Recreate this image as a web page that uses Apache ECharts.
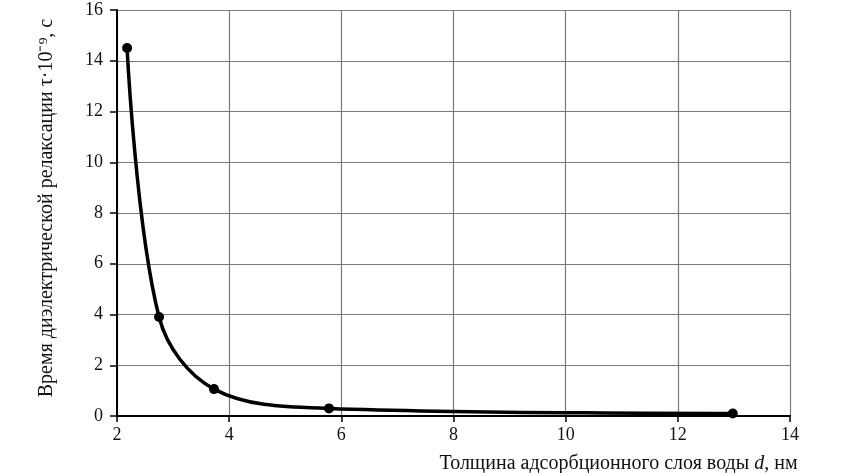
<!DOCTYPE html>
<html>
<head>
<meta charset="utf-8">
<script src="https://cdn.jsdelivr.net/npm/echarts@6/dist/echarts.min.js"></script>
<style>
  html, body { margin: 0; padding: 0; background: #fff; }
  #chart { width: 859px; height: 473px; }
</style>
</head>
<body>
<div id="chart"></div>
<script>
// толщина слоя, нм
const thickness = [2.18, 2.75, 3.73, 5.78, 12.98];
// время релаксации, τ·10^-9 с
const relaxTime = [14.5, 3.9, 1.06, 0.3, 0.1];

const xTicks = [2, 4, 6, 8, 10, 12, 14];
const yTicks = [0, 2, 4, 6, 8, 10, 12, 14, 16];

const font = 'Liberation Serif, Times New Roman, serif';

const chart = echarts.init(document.getElementById('chart'));

chart.setOption({
  animation: false,
  grid: { left: 117, right: 69, top: 10, bottom: 57, outerBoundsMode: 'none' },
  xAxis: {
    type: 'value',
    min: xTicks[0],
    max: xTicks[xTicks.length - 1],
    interval: 2,
    name: 'Толщина адсорбционного слоя воды {i|d}, нм',
    nameLocation: 'middle',
    nameGap: 38,
    nameTextStyle: {
      fontFamily: font, fontSize: 20, color: '#111',
      padding: [0, 0, 0, 330],
      rich: { i: { fontFamily: font, fontSize: 20, fontStyle: 'italic', color: '#111' } }
    },
    axisLine: { lineStyle: { color: '#000', width: 2 } },
    axisTick: { show: true, length: 6, lineStyle: { color: '#000', width: 1.5 } },
    axisLabel: { fontFamily: font, fontSize: 18, color: '#111', margin: 10 },
    splitLine: { show: true, lineStyle: { color: '#7a7a7a', width: 1.2 } }
  },
  yAxis: {
    type: 'value',
    min: yTicks[0],
    max: yTicks[yTicks.length - 1],
    interval: 2,
    name: 'Время диэлектрической релаксации τ·10⁻⁹, с',
    nameLocation: 'middle',
    nameGap: 60,
    nameTextStyle: {
      fontFamily: font, fontSize: 20, color: '#111',
      padding: [0, 0, 0, 10]
    },
    axisLine: { show: true, lineStyle: { color: '#000', width: 2 } },
    axisTick: { show: true, length: 7, lineStyle: { color: '#000', width: 1.5 } },
    axisLabel: { fontFamily: font, fontSize: 18, color: '#111', margin: 14 },
    splitLine: { show: true, lineStyle: { color: '#7a7a7a', width: 1.2 } }
  },
  series: [{
    type: 'line',
    data: thickness.map((x, i) => [x, relaxTime[i]]),
    smooth: 0.35,
    symbol: 'circle',
    symbolSize: 10,
    lineStyle: { color: '#000', width: 3.5 },
    itemStyle: { color: '#000' }
  }]
});
</script>
</body>
</html>
